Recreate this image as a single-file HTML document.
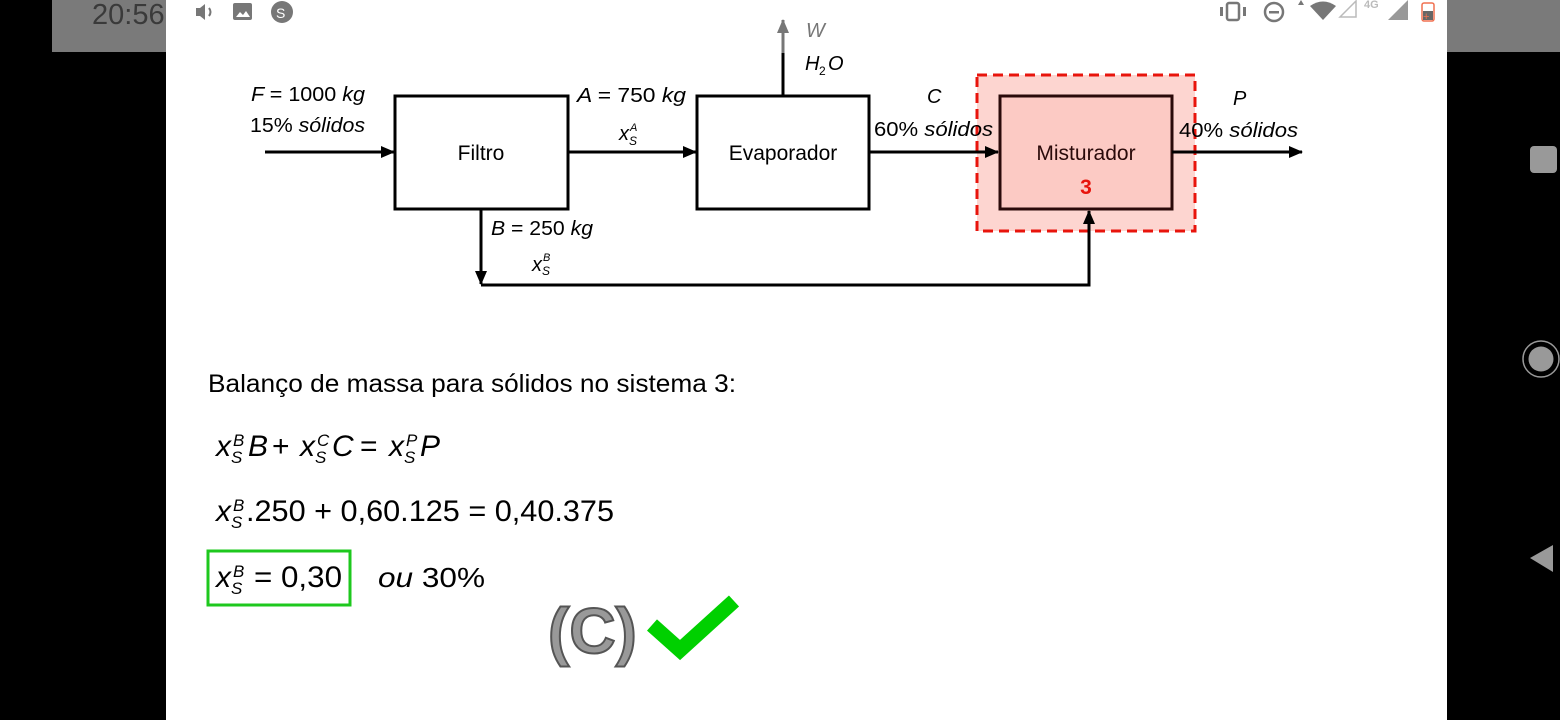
<!DOCTYPE html>
<html><head><meta charset="utf-8"><style>
html,body{margin:0;padding:0;background:#000;}
svg{display:block}
text{font-family:"Liberation Sans",Arial,sans-serif;}
</style></head><body>
<svg width="1560" height="720" viewBox="0 0 1560 720" xmlns="http://www.w3.org/2000/svg">
<defs>
<marker id="ah" markerWidth="14" markerHeight="12" refX="13" refY="6" orient="auto" markerUnits="userSpaceOnUse">
<path d="M0,0 L14,6 L0,12 z" fill="#000"/></marker>
<marker id="ahg" markerWidth="14" markerHeight="12" refX="13" refY="6" orient="auto" markerUnits="userSpaceOnUse">
<path d="M0,0 L14,6 L0,12 z" fill="#777"/></marker>
</defs>
<rect x="0" y="0" width="1560" height="720" fill="#000"/>
<rect x="52" y="0" width="1508" height="52" fill="#7a7a7a"/>
<rect x="166" y="0" width="1281" height="720" fill="#fff"/>
<!-- status bar -->
<text x="92" y="24" font-size="29" fill="#3a3a3a">20:56</text>
<path d="M196,8 h4 l5,-4 v16 l-5,-4 h-4z" fill="#777"/>
<path d="M209,8 q3,4 0,8" stroke="#777" stroke-width="2" fill="none"/>
<rect x="233" y="3" width="19" height="17" rx="2" fill="#777"/>
<path d="M236,17 l4,-5 l3,3 l3,-4 l4,6z" fill="#fff"/>
<circle cx="282" cy="12" r="11" fill="#777"/>
<text x="276" y="18" font-size="14" fill="#fff">S</text>
<rect x="1227" y="3" width="12" height="17" rx="2" fill="none" stroke="#777" stroke-width="2.5"/>
<rect x="1220" y="7" width="3" height="9" fill="#777"/><rect x="1243" y="7" width="3" height="9" fill="#777"/>
<circle cx="1274" cy="12" r="9" fill="none" stroke="#777" stroke-width="2.5"/>
<rect x="1269" y="11" width="10" height="2.5" fill="#777"/>
<path d="M1298,5 l3,-5 l3,5z" fill="#777"/>
<path d="M1310,6 q13,-9 26,0 l-13,14z" fill="#777"/>
<path d="M1340,17 l16,-16 v16z" fill="none" stroke="#bbb" stroke-width="1.5"/>
<text x="1364" y="8" font-size="11" fill="#bbb" font-weight="bold">4G</text>
<path d="M1388,20 l20,-20 v20z" fill="#999"/>
<rect x="1422" y="3" width="12" height="18" rx="2" fill="#fff" stroke="#f07050" stroke-width="1.5"/>
<rect x="1423" y="11" width="10" height="9" fill="#666"/>
<text x="1423" y="20" font-size="11" fill="#f07050">+</text>
<!-- nav -->
<rect x="1530" y="146" width="27" height="27" rx="4" fill="#999"/>
<circle cx="1541" cy="359" r="18" fill="none" stroke="#999" stroke-width="1.5"/>
<circle cx="1541" cy="359" r="12.5" fill="#999"/>
<path d="M1530,558 L1553,545 L1553,572z" fill="#999"/>

<!-- diagram -->
<rect x="977" y="75" width="218" height="156" fill="#fdd5d0" stroke="#e8140c" stroke-width="3" stroke-dasharray="10,6"/>
<rect x="395" y="96" width="173" height="113" fill="#fff" stroke="#000" stroke-width="3"/>
<rect x="697" y="96" width="172" height="113" fill="#fff" stroke="#000" stroke-width="3"/>
<rect x="1000" y="96" width="172" height="113" fill="#fccac4" stroke="#2a0a0a" stroke-width="3"/>
<text x="481" y="160" font-size="21" text-anchor="middle">Filtro</text>
<text x="783" y="160" font-size="21" text-anchor="middle">Evaporador</text>
<text x="1086" y="160" font-size="21" text-anchor="middle" fill="#2a0a0a">Misturador</text>
<text x="1086" y="194" font-size="21" text-anchor="middle" fill="#e8140c" font-weight="bold">3</text>

<g stroke="#000" stroke-width="3" fill="none">
<line x1="265" y1="152" x2="394" y2="152" marker-end="url(#ah)"/>
<line x1="568" y1="152" x2="696" y2="152" marker-end="url(#ah)"/>
<line x1="869" y1="152" x2="998" y2="152" marker-end="url(#ah)"/>
<line x1="1172" y1="152" x2="1302" y2="152" marker-end="url(#ah)"/>
<line x1="481" y1="209" x2="481" y2="284" marker-end="url(#ah)"/>
<polyline points="481,285 1089,285 1089,211" marker-end="url(#ah)"/>
<line x1="783" y1="96" x2="783" y2="52"/>
</g>
<line x1="783" y1="53" x2="783" y2="20" stroke="#777" stroke-width="3" marker-end="url(#ahg)"/>

<g font-size="20" font-style="italic">
<text x="806" y="37" fill="#777">W</text>
<text x="805" y="70">H</text><text x="819" y="75" font-size="12" font-style="normal">2</text><text x="828" y="70">O</text>
<text x="251" y="101" textLength="114" lengthAdjust="spacingAndGlyphs">F <tspan font-style="normal">= 1000</tspan> kg</text>
<text x="250" y="132" textLength="115" lengthAdjust="spacingAndGlyphs"><tspan font-style="normal">15%</tspan> sólidos</text>
<text x="577" y="102" textLength="109" lengthAdjust="spacingAndGlyphs">A <tspan font-style="normal">= 750</tspan> kg</text>
<text x="619" y="140">x</text><text x="630" y="131" font-size="11">A</text><text x="629" y="145" font-size="12">S</text>
<text x="927" y="103">C</text>
<text x="874" y="136" textLength="119" lengthAdjust="spacingAndGlyphs"><tspan font-style="normal">60%</tspan> sólidos</text>
<text x="1233" y="105">P</text>
<text x="1179" y="137" textLength="119" lengthAdjust="spacingAndGlyphs"><tspan font-style="normal">40%</tspan> sólidos</text>
<text x="491" y="235" textLength="102" lengthAdjust="spacingAndGlyphs">B <tspan font-style="normal">= 250</tspan> kg</text>
<text x="532" y="271">x</text><text x="543" y="261" font-size="11">B</text><text x="542" y="275" font-size="12">S</text>
</g>

<text x="208" y="392" font-size="25" textLength="528" lengthAdjust="spacingAndGlyphs">Balanço de massa para sólidos no sistema 3:</text>
<g font-size="30">
<text x="216" y="456" font-style="italic">x</text>
<text x="233" y="446" font-size="17" font-style="italic">B</text><text x="231" y="463" font-size="17" font-style="italic">S</text>
<text x="248" y="456" font-style="italic">B</text><text x="272" y="456">+</text>
<text x="300" y="456" font-style="italic">x</text>
<text x="317" y="446" font-size="17" font-style="italic">C</text><text x="315" y="463" font-size="17" font-style="italic">S</text>
<text x="332" y="456" font-style="italic">C</text><text x="360" y="456">=</text>
<text x="389" y="456" font-style="italic">x</text>
<text x="406" y="446" font-size="17" font-style="italic">P</text><text x="404" y="463" font-size="17" font-style="italic">S</text>
<text x="420" y="456" font-style="italic">P</text>

<text x="216" y="521" font-style="italic">x</text>
<text x="233" y="511" font-size="17" font-style="italic">B</text><text x="231" y="528" font-size="17" font-style="italic">S</text>
<text x="246" y="521" textLength="368" lengthAdjust="spacingAndGlyphs">.250 + 0,60.125 = 0,40.375</text>

<rect x="208" y="551" width="142" height="54" fill="none" stroke="#1ec81e" stroke-width="3"/>
<text x="216" y="587" font-style="italic">x</text>
<text x="233" y="577" font-size="17" font-style="italic">B</text><text x="231" y="594" font-size="17" font-style="italic">S</text>
<text x="254" y="587" textLength="88" lengthAdjust="spacingAndGlyphs">= 0,30</text>
<text x="378" y="587" font-size="28" textLength="107" lengthAdjust="spacingAndGlyphs"><tspan font-style="italic">ou</tspan> 30%</text>
</g>
<text x="548" y="653" font-size="64" font-weight="bold" fill="#999" stroke="#555" stroke-width="2">(C)</text>
<path d="M652,625 L680,650 L734,601" stroke="#00d000" stroke-width="15" fill="none" stroke-linejoin="miter"/>
</svg>
</body></html>
